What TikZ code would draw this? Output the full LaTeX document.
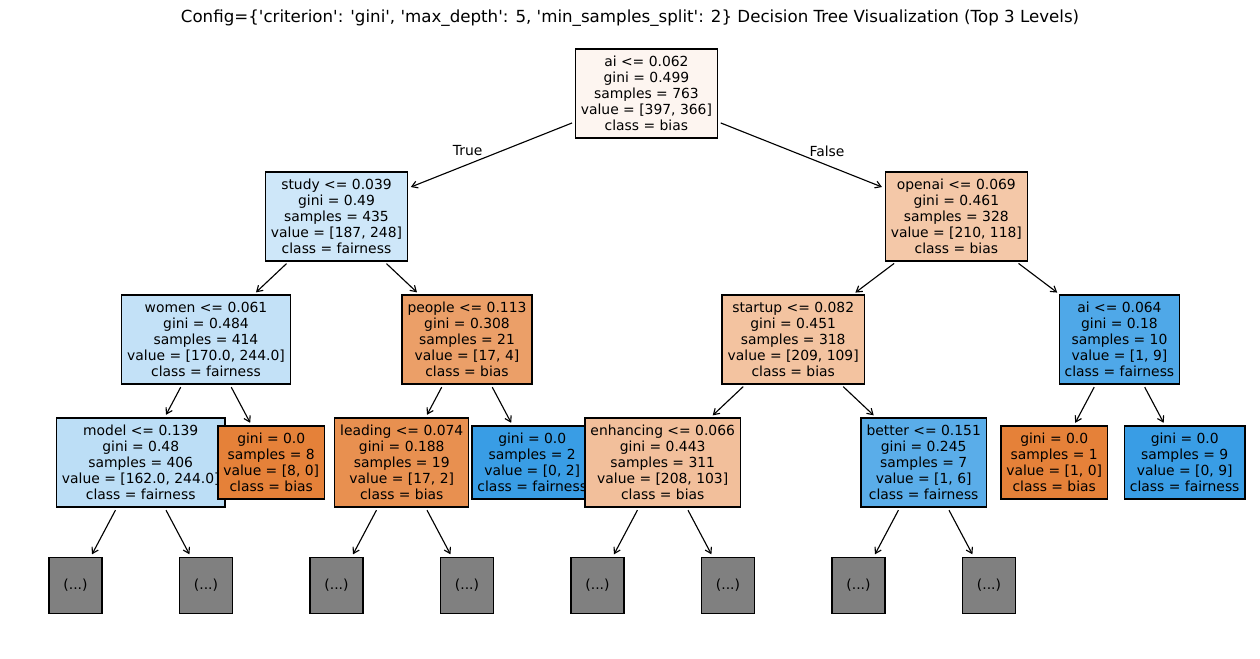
\documentclass[tikz,border=0pt]{standalone}
\usepackage{fontspec}
\newfontfamily\plotfont{DejaVu Sans}[Ligatures=TeXOff]
\usetikzlibrary{positioning,arrows.meta}
\definecolor{fRoot}{RGB}{253,245,240}
\definecolor{fStudy}{RGB}{206,231,249}
\definecolor{fOpenai}{RGB}{244,200,168}
\definecolor{fWomen}{RGB}{195,225,247}
\definecolor{fPeople}{RGB}{235,159,104}
\definecolor{fStartup}{RGB}{243,195,160}
\definecolor{fAi}{RGB}{79,168,232}
\definecolor{fModel}{RGB}{188,222,246}
\definecolor{fLeading}{RGB}{232,144,80}
\definecolor{fEnhancing}{RGB}{242,191,155}
\definecolor{fBetter}{RGB}{90,173,233}
\definecolor{fOrange}{RGB}{229,129,57}
\definecolor{fBlue}{RGB}{57,157,229}
\definecolor{fMore}{RGB}{128,128,128}

\begin{document}
\begin{tikzpicture}[
    ->,
    >={Straight Barb[length=4pt,width=5pt]},
    line width=0.8pt,
    node distance=3.075cm and 1.63125cm,
    on grid,
    every node/.style={font=\plotfont\fontsize{9.88}{11.38}\selectfont},
    every edge/.style={draw, shorten >=2pt, shorten <=2pt},
    splitbox/.style={draw, line width=1pt, align=center, inner xsep=3.9pt, inner ysep=2pt, minimum height=2.225cm},
    leafbox/.style={splitbox, minimum height=1.825cm},
    dotsbox/.style={draw, line width=1pt, fill=fMore, inner sep=0pt, minimum width=1.325cm, minimum height=1.4cm}
]
    \useasboundingbox (0,0) rectangle (31.5,-16.45);

    \node[font=\plotfont\fontsize{11.85}{14}\selectfont] (title) at (15.75,-0.45)
        {Config=\{'criterion': 'gini', 'max\_depth': 5, 'min\_samples\_split': 2\} Decision Tree Visualization (Top 3 Levels)};

    \node[splitbox, fill=fRoot] (root) at (16.16,-2.3375) {ai <= 0.062\\gini = 0.499\\samples = 763\\value = [397, 366]\\class = bias};

    \node[splitbox, fill=fStudy, below left=3.075cm and 7.748cm of root] (study) {study <= 0.039\\gini = 0.49\\samples = 435\\value = [187, 248]\\class = fairness};
    \node[splitbox, fill=fWomen, below left=3.075cm and 3.2625cm of study] (women) {women <= 0.061\\gini = 0.484\\samples = 414\\value = [170.0, 244.0]\\class = fairness};
    \node[splitbox, fill=fModel, below left=of women] (model) {model <= 0.139\\gini = 0.48\\samples = 406\\value = [162.0, 244.0]\\class = fairness};
    \node[dotsbox, below left=of model] (m1) {(...)};
    \node[dotsbox, below right=of model] (m2) {(...)};
    \node[leafbox, fill=fOrange, below right=of women] (womenR) {gini = 0.0\\samples = 8\\value = [8, 0]\\class = bias};
    \node[splitbox, fill=fPeople, below right=3.075cm and 3.2625cm of study] (people) {people <= 0.113\\gini = 0.308\\samples = 21\\value = [17, 4]\\class = bias};
    \node[splitbox, fill=fLeading, below left=of people] (leading) {leading <= 0.074\\gini = 0.188\\samples = 19\\value = [17, 2]\\class = bias};
    \node[dotsbox, below left=of leading] (l1) {(...)};
    \node[dotsbox, below right=of leading] (l2) {(...)};
    \node[leafbox, fill=fBlue, below right=of people] (peopleR) {gini = 0.0\\samples = 2\\value = [0, 2]\\class = fairness};

    \node[splitbox, fill=fOpenai, below right=3.075cm and 7.748cm of root] (openai) {openai <= 0.069\\gini = 0.461\\samples = 328\\value = [210, 118]\\class = bias};
    \node[splitbox, fill=fStartup, below left=3.075cm and 4.078cm of openai] (startup) {startup <= 0.082\\gini = 0.451\\samples = 318\\value = [209, 109]\\class = bias};
    \node[splitbox, fill=fEnhancing, below left=3.075cm and 3.2625cm of startup] (enhancing) {enhancing <= 0.066\\gini = 0.443\\samples = 311\\value = [208, 103]\\class = bias};
    \node[dotsbox, below left=of enhancing] (e1) {(...)};
    \node[dotsbox, below right=of enhancing] (e2) {(...)};
    \node[splitbox, fill=fBetter, below right=3.075cm and 3.2625cm of startup] (better) {better <= 0.151\\gini = 0.245\\samples = 7\\value = [1, 6]\\class = fairness};
    \node[dotsbox, below left=of better] (b1) {(...)};
    \node[dotsbox, below right=of better] (b2) {(...)};
    \node[splitbox, fill=fAi, below right=3.075cm and 4.078cm of openai] (ai) {ai <= 0.064\\gini = 0.18\\samples = 10\\value = [1, 9]\\class = fairness};
    \node[leafbox, fill=fOrange, below left=of ai] (aiL) {gini = 0.0\\samples = 1\\value = [1, 0]\\class = bias};
    \node[leafbox, fill=fBlue, below right=of ai] (aiR) {gini = 0.0\\samples = 9\\value = [0, 9]\\class = fairness};

    \node (truelbl) at (11.69,-3.775) {True};
    \node (falselbl) at (20.675,-3.775) {False};

    \path (root) edge (study) edge (openai);
    \path (study) edge (women) edge (people);
    \path (women) edge (model) edge (womenR);
    \path (model) edge (m1) edge (m2);
    \path (people) edge (leading) edge (peopleR);
    \path (leading) edge (l1) edge (l2);
    \path (openai) edge (startup) edge (ai);
    \path (startup) edge (enhancing) edge (better);
    \path (enhancing) edge (e1) edge (e2);
    \path (better) edge (b1) edge (b2);
    \path (ai) edge (aiL) edge (aiR);
\end{tikzpicture}
\end{document}
